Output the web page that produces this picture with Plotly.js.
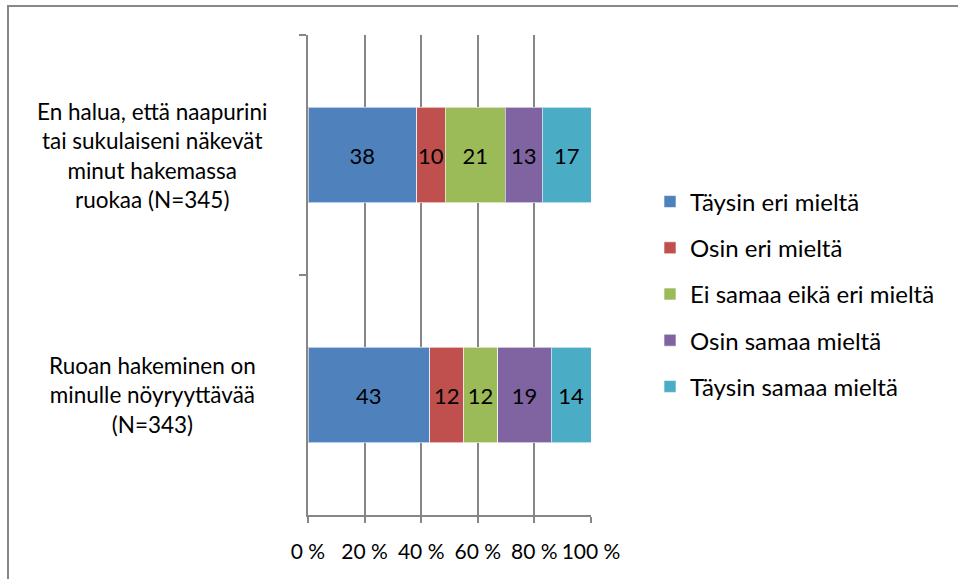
<!DOCTYPE html>
<html>
<head>
<meta charset="utf-8">
<script src="https://cdn.plot.ly/plotly-3.0.1.min.js"></script>
<style>html,body{margin:0;padding:0;background:#fff;}#chart{width:958px;height:579px;}</style>
</head>
<body>
<div id="chart"></div>
<script>
var categories = ["En halua, että naapurini<br>tai sukulaiseni näkevät<br>minut hakemassa<br>ruokaa (N=345)", "Ruoan hakeminen on<br>minulle nöyryyttävää<br>(N=343)"];
var seriesNames = ["Täysin eri mieltä", "Osin eri mieltä", "Ei samaa eikä eri mieltä", "Osin samaa mieltä", "Täysin samaa mieltä"];
var taysinEri = [38, 43];
var osinEri = [10, 12];
var eiSamaaEikaEri = [21, 12];
var osinSamaa = [13, 19];
var taysinSamaa = [17, 14];
var xTicks = [0, 20, 40, 60, 80, 100];
var colors = ["#4F81BD", "#C0504D", "#9BBB59", "#8064A2", "#4BACC6"];

var FONT = "Lato, 'Open Sans', sans-serif";
var seriesValues = [taysinEri, osinEri, eiSamaaEikaEri, osinSamaa, taysinSamaa];
var catIds = ["c0", "c1"];

var traces = seriesValues.map(function (vals, i) {
  return {
    type: "bar",
    orientation: "h",
    name: seriesNames[i],
    legendgroup: "g" + i,
    y: catIds,
    x: vals,
    text: vals.map(String),
    textposition: "inside",
    insidetextanchor: "middle",
    textangle: 0,
    constraintext: "none",
    textfont: {family: FONT, size: 22, color: "#000"},
    marker: {color: colors[i], line: {color: "rgba(255,255,255,0.6)", width: 1}},
    hoverinfo: "none"
  };
});

var L = 308, R = 591, T = 35, B = 515, W = 958, H = 579;
function px(x) { return (x - L) / (R - L); }
function py(y) { return (B - y) / (B - T); }

var annotations = categories.map(function (c, i) {
  return {
    xref: "paper", yref: "y", x: px(152), y: catIds[i],
    text: c, showarrow: false, xanchor: "center", yanchor: "middle", align: "center",
    font: {family: FONT, size: 22.5, color: "#000"}
  };
});

var layout = {
  width: W, height: H,
  margin: {l: L, r: W - R, t: T, b: H - B, pad: 0},
  paper_bgcolor: "#fff", plot_bgcolor: "#fff",
  barmode: "stack", barnorm: "percent", bargap: 0.604,
  showlegend: true,
  legend: {
    x: px(650), y: py(294), xanchor: "left", yanchor: "middle",
    font: {family: FONT, size: 24, color: "#000"},
    tracegroupgap: 12, traceorder: "grouped", bgcolor: "rgba(0,0,0,0)"
  },
  uniformtext: {minsize: 22, mode: "show"},
  xaxis: {
    range: [0, 100], tickvals: xTicks, ticktext: xTicks.map(function (v) { return v + " %"; }),
    showgrid: true, gridcolor: "#868686", gridwidth: 2,
    showline: true, linecolor: "#868686", linewidth: 2,
    ticks: "outside", ticklen: 6, tickcolor: "#868686", tickwidth: 2,
    zeroline: false, fixedrange: true, ticklabelstandoff: 11, tickangle: 0,
    tickfont: {family: FONT, size: 21, color: "#000"}
  },
  yaxis: {
    type: "category", categoryarray: catIds, categoryorder: "array",
    range: [1.5, -0.5], tickson: "boundaries",
    showticklabels: false, showgrid: false, zeroline: false,
    showline: true, linecolor: "#868686", linewidth: 2,
    ticks: "outside", ticklen: 7, tickcolor: "#868686", tickwidth: 2, fixedrange: true
  },
  annotations: annotations,
  shapes: [{
    type: "rect", xref: "paper", yref: "paper",
    x0: px(8), x1: px(W + 10), y0: py(H + 10), y1: py(6),
    line: {color: "#888888", width: 2}, fillcolor: "rgba(0,0,0,0)", layer: "below"
  }]
};

Plotly.newPlot("chart", traces, layout, {displayModeBar: false, staticPlot: true});
</script>
</body>
</html>
